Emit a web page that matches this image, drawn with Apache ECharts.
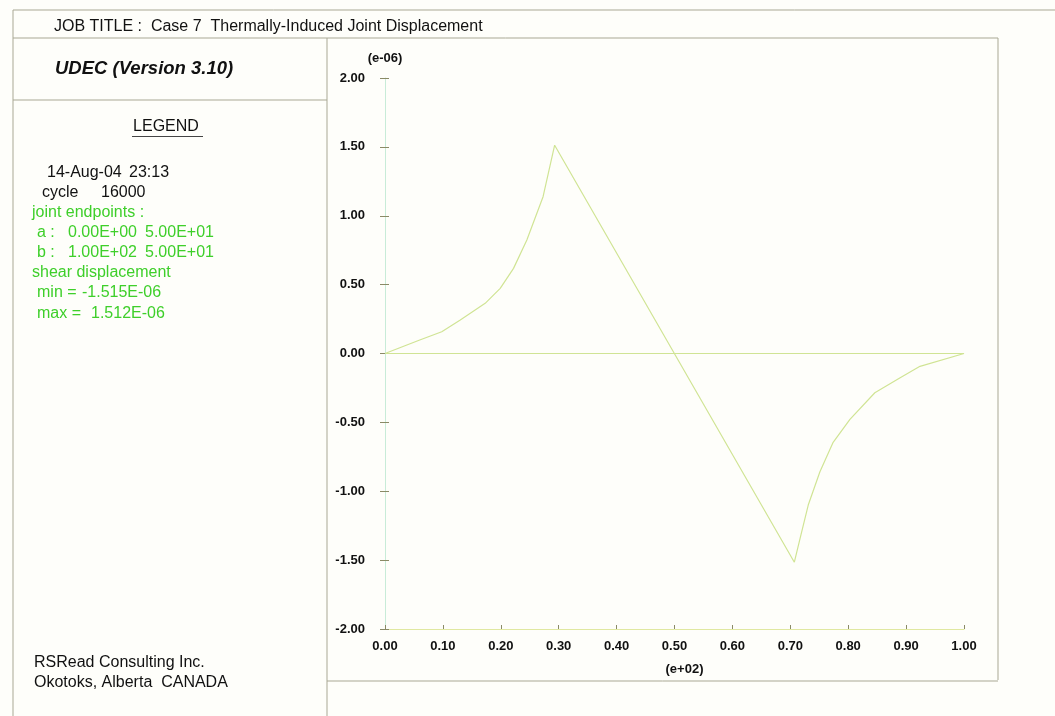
<!DOCTYPE html>
<html>
<head>
<meta charset="utf-8">
<script src="https://cdn.jsdelivr.net/npm/echarts@6/dist/echarts.min.js"></script>
<style>
html,body{margin:0;padding:0;background:#fefefa;}
#c{width:1055px;height:716px;}
</style>
</head>
<body>
<div id="c"></div>
<script>
// Joint position along joint (e+02)
const xValues = [0.000, 0.060, 0.098, 0.130, 0.173, 0.199, 0.222, 0.245, 0.273, 0.293, 0.707, 0.717, 0.731, 0.751, 0.774, 0.803, 0.846, 0.889, 0.924, 1.000, 0.000];
// Shear displacement (e-06)
const yValues = [0.000, 0.098, 0.158, 0.243, 0.364, 0.473, 0.618, 0.824, 1.138, 1.512, -1.515, -1.340, -1.100, -0.860, -0.645, -0.478, -0.285, -0.178, -0.093, 0.000, 0.000];
const xTicks = [0.0, 0.1, 0.2, 0.3, 0.4, 0.5, 0.6, 0.7, 0.8, 0.9, 1.0];
const yTicks = [-2.0, -1.5, -1.0, -0.5, 0.0, 0.5, 1.0, 1.5, 2.0];

const titleText = 'JOB TITLE :  Case 7  Thermally-Induced Joint Displacement';
const programText = 'UDEC (Version 3.10)';
const credits = ['RSRead Consulting Inc.', 'Okotoks, Alberta  CANADA'];

const GREEN = '#3ecf2a';
const BORDER = '#a9a894';
const FONT = '"Liberation Sans", Arial, sans-serif';

const chart = echarts.init(document.getElementById('c'), null, {renderer: 'canvas'});

function txt(t, x, y, size, color, extra) {
  return {
    type: 'text', z: 10,
    style: Object.assign({text: t, x: x, y: y, fill: color || '#111', font: (size || 16) + 'px ' + FONT, align: 'left', verticalAlign: 'middle'}, extra || {})
  };
}
function ln(x1, y1, x2, y2, color, w) {
  return {type: 'line', z: 5, shape: {x1: x1, y1: y1, x2: x2, y2: y2}, style: {stroke: color || BORDER, lineWidth: w || 1}};
}

const graphics = [
  ln(13, 10, 1055, 10),
  ln(13, 10, 13, 716),
  ln(13, 38, 998, 38),
  ln(998, 38, 998, 680),
  ln(327, 38, 327, 716),
  ln(13, 100, 327, 100),
  ln(327, 681, 998, 681),
  txt(titleText, 54, 27, 16, '#111'),
  txt(programText, 55, 69, 18.5, '#111', {font: 'italic bold 18.5px ' + FONT}),
  txt('LEGEND', 166, 127, 16, '#111', {align: 'center'}),
  ln(132, 136.5, 203, 136.5, '#444', 1),
  txt('14-Aug-04', 47, 173, 16, '#111'),
  txt('23:13', 129, 173, 16, '#111'),
  txt('cycle', 42, 193, 16, '#111'),
  txt('16000', 101, 193, 16, '#111'),
  txt('joint endpoints :', 32, 213, 16, GREEN),
  txt('a :', 37, 233, 16, GREEN),
  txt('0.00E+00', 68, 233, 16, GREEN),
  txt('5.00E+01', 145, 233, 16, GREEN),
  txt('b :', 37, 253, 16, GREEN),
  txt('1.00E+02', 68, 253, 16, GREEN),
  txt('5.00E+01', 145, 253, 16, GREEN),
  txt('shear displacement', 32, 273, 16, GREEN),
  txt('min =', 37, 293, 16, GREEN),
  txt('-1.515E-06', 82, 293, 16, GREEN),
  txt('max =', 37, 314, 16, GREEN),
  txt('1.512E-06', 91, 314, 16, GREEN),
  txt(credits[0], 34, 663, 16, '#111'),
  txt(credits[1], 34, 683, 16, '#111')
];

const pts = xValues.map((x, i) => [x, yValues[i]]);
const fmt = v => v.toFixed(2);

chart.setOption({
  backgroundColor: '#fefefa',
  animation: false,
  grid: {left: 385, top: 78, right: 91, bottom: 87, containLabel: false},
  xAxis: {
    type: 'value', min: xTicks[0], max: xTicks[xTicks.length - 1], interval: 0.1,
    name: '(e+02)', nameLocation: 'middle', nameGap: 34,
    nameTextStyle: {color: '#111', fontWeight: 'bold', fontSize: 13, fontFamily: FONT, padding: [0, 0, 0, 20]},
    axisLine: {show: true, onZero: false, lineStyle: {color: '#e0e8a0', width: 1}},
    axisTick: {show: true, inside: true, length: 4, lineStyle: {color: '#8a8a66'}},
    axisLabel: {color: '#111', fontWeight: 'bold', fontSize: 13, fontFamily: FONT, margin: 11, formatter: fmt},
    splitLine: {show: false}
  },
  yAxis: [{
    type: 'value', min: yTicks[0], max: yTicks[yTicks.length - 1], interval: 0.5,
    name: '(e-06)', nameLocation: 'end', nameGap: 13,
    nameTextStyle: {color: '#111', fontWeight: 'bold', fontSize: 13, fontFamily: FONT, align: 'center'},
    axisLine: {show: true, onZero: false, lineStyle: {color: '#c8ecd8', width: 1}},
    axisTick: {show: true, length: 5, lineStyle: {color: '#8a8a66'}},
    axisLabel: {color: '#111', fontWeight: 'bold', fontSize: 13, fontFamily: FONT, margin: 20, formatter: fmt},
    splitLine: {show: false}
  }, {
    type: 'value', position: 'left', offset: 0, min: yTicks[0], max: yTicks[yTicks.length - 1], interval: 0.5,
    axisLine: {show: false},
    axisTick: {show: true, inside: true, length: 4, lineStyle: {color: '#8a8a66'}},
    axisLabel: {show: false},
    splitLine: {show: false}
  }],
  series: [{
    type: 'line', data: pts, showSymbol: false, symbol: 'none',
    lineStyle: {color: '#d0e494', width: 1.2},
    z: 3
  }],
  graphic: graphics
});
</script>
</body>
</html>
